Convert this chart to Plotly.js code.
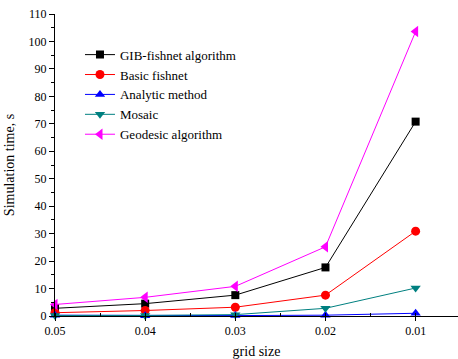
<!DOCTYPE html>
<html><head><meta charset="utf-8">
<script src="https://cdn.plot.ly/plotly-3.0.1.min.js"></script>
<style>html,body{margin:0;padding:0;background:#fff}#chart{width:458px;height:359px}</style>
</head><body><div id="chart"></div>
<script>
const gridSize = [0.05, 0.04, 0.03, 0.02, 0.01];
const gibFishnet = [2.8, 4.5, 7.6, 17.7, 70.8];
const basicFishnet = [1.2, 2.0, 3.2, 7.6, 30.9];
const analyticMethod = [0.3, 0.1, 0.15, 0.3, 1.0];
const mosaic = [0.2, 0.2, 0.5, 2.8, 10.2];
const geodesic = [4.2, 6.8, 10.8, 25.2, 103.6];
const tickVals = [0.05, 0.04, 0.03, 0.02, 0.01];
const tickText = ['0.05', '0.04', '0.03', '0.02', '0.01'];

const font = {family: 'Liberation Serif, DejaVu Serif, serif', color: '#000'};
function tr(name, y, color, symbol, size) {
  return {x: gridSize, y: y, name: name, type: 'scatter', mode: 'lines+markers',
    line: {color: color, width: 1}, marker: {color: color, symbol: symbol, size: size},
    cliponaxis: false};
}
const data = [
  tr('GIB-fishnet algorithm', gibFishnet, '#000000', 'square', 8),
  tr('Basic fishnet', basicFishnet, '#ff0000', 'circle', 9),
  tr('Analytic method', analyticMethod, '#0000ff', 'triangle-up', 9),
  tr('Mosaic', mosaic, '#008080', 'triangle-down', 9),
  tr('Geodesic algorithm', geodesic, '#ff00ff', 'triangle-left', 10)
];
const layout = {
  width: 458, height: 359,
  margin: {l: 55, r: 0, t: 14, b: 43},
  paper_bgcolor: '#fff', plot_bgcolor: '#fff',
  font: Object.assign({size: 12}, font),
  showlegend: true,
  legend: {x: 0.062, y: 0.915, xanchor: 'left', yanchor: 'top', bgcolor: 'rgba(0,0,0,0)',
    font: Object.assign({size: 13}, font), tracegroupgap: 0},
  xaxis: {
    range: [0.05, 0.0053], tickvals: tickVals, ticktext: tickText,
    showgrid: false, zeroline: false, showline: true, linecolor: '#000', linewidth: 1,
    ticks: 'outside', ticklen: 4, tickcolor: '#000', mirror: false,
    minor: {dtick: 0.005, ticks: 'inside', ticklen: 3, tickcolor: '#000', showgrid: false},
    tickfont: Object.assign({size: 12}, font),
    title: {text: 'grid size', font: Object.assign({size: 14}, font), standoff: 14}
  },
  yaxis: {
    range: [0, 110], tickvals: [0,10,20,30,40,50,60,70,80,90,100,110],
    showgrid: false, zeroline: false, showline: true, linecolor: '#000', linewidth: 1,
    ticks: 'outside', ticklen: 5, tickcolor: '#000',
    minor: {dtick: 5, ticks: 'outside', ticklen: 3, tickcolor: '#000', showgrid: false},
    tickfont: Object.assign({size: 12}, font),
    title: {text: 'Simulation time, s', font: Object.assign({size: 14}, font), standoff: 10}
  }
};
Plotly.newPlot('chart', data, layout, {displayModeBar: false, staticPlot: true});
</script></body></html>
